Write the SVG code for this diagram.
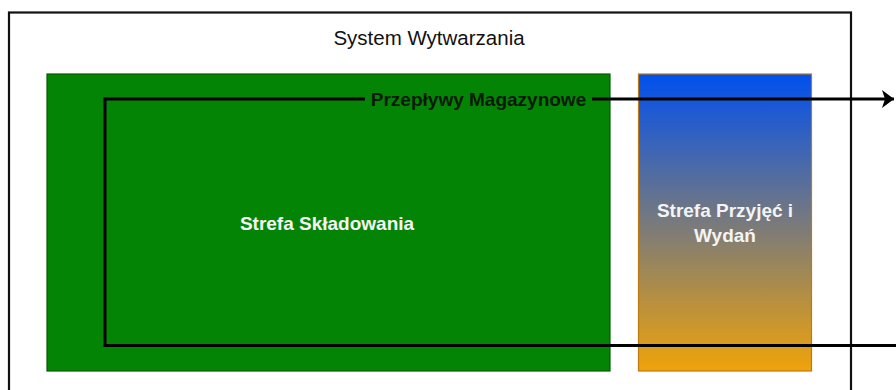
<svg xmlns="http://www.w3.org/2000/svg" width="896" height="390" viewBox="0 0 896 390">
  <style>
    .title { font-family: "Liberation Sans", Arial, sans-serif; font-size: 20.5px; fill: #111; }
    .zone { font-family: "Liberation Sans", Arial, sans-serif; font-size: 19px; font-weight: bold; fill: #f4f4f4; }
    .flowlabel { font-family: "Liberation Sans", Arial, sans-serif; font-size: 19px; font-weight: bold; fill: #0a1a0a; }
    .flow { fill: none; stroke: #000; stroke-width: 3; }
  </style>
  <defs>
    <linearGradient id="gradReceive" x1="0" y1="0" x2="0" y2="1">
      <stop offset="0" stop-color="#0050ef"/>
      <stop offset="1" stop-color="#f0a30a"/>
    </linearGradient>
    <marker id="arrow" markerUnits="userSpaceOnUse" markerWidth="14" markerHeight="18" refX="12" refY="9" orient="auto">
      <path d="M0,0 L12,9 L0,18 L3,9 Z" fill="#000"/>
    </marker>
  </defs>

  <rect width="896" height="390" fill="#fff"/>

  <!-- outer system boundary -->
  <g id="system">
    <rect x="9" y="12.5" width="842" height="382" fill="#fff" stroke="#111" stroke-width="2.2"/>
    <text class="title" x="429" y="45" text-anchor="middle">System Wytwarzania</text>
  </g>

  <!-- storage zone -->
  <g id="storage">
    <rect x="47" y="74" width="563" height="297" fill="#048404" stroke="#035c03" stroke-width="1.2"/>
    <text class="zone" x="327" y="230" text-anchor="middle">Strefa Składowania</text>
  </g>

  <!-- receiving / dispatch zone -->
  <g id="receiving">
    <rect x="638.5" y="74" width="173" height="297" fill="url(#gradReceive)" stroke="#c07810" stroke-width="1.2"/>
    <text class="zone" x="725" y="217" text-anchor="middle">Strefa Przyjęć i</text>
    <text class="zone" x="725" y="242" text-anchor="middle">Wydań</text>
  </g>

  <!-- warehouse flow -->
  <g id="connectors">
    <path class="flow" d="M900,345.5 L105,345.5 L105,99 L365,99"/>
    <path class="flow" d="M592,99 L894,99" marker-end="url(#arrow)"/>
    <text class="flowlabel" x="478.5" y="105.5" text-anchor="middle">Przepływy Magazynowe</text>
  </g>
</svg>
